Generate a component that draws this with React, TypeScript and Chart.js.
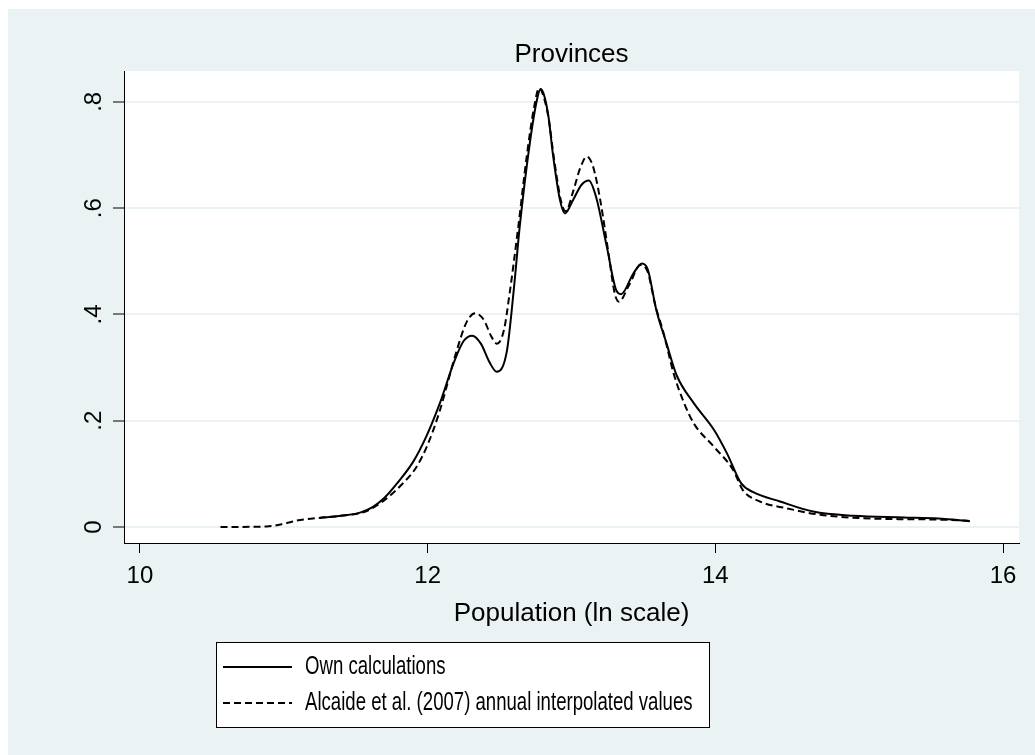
import React, { useEffect, useRef } from "react";
import { Chart, registerables } from "chart.js";

Chart.register(...registerables);

// ---- data ----
const chartTitle = "Provinces";
const xAxisTitle = "Population (ln scale)";
const xTicks = [10, 12, 14, 16];
const yTicks = [0, 0.2, 0.4, 0.6, 0.8];
const yTickLabels = ["0", ".2", ".4", ".6", ".8"];
const seriesLabels = [
  "Own calculations",
  "Alcaide et al. (2007) annual interpolated values",
];

const ownX = [
  11.25, 11.4, 11.53, 11.62, 11.7, 11.79, 11.9, 11.99, 12.085, 12.18, 12.25,
  12.31, 12.37, 12.43, 12.48, 12.55, 12.6, 12.64, 12.71, 12.76, 12.785, 12.81,
  12.84, 12.87, 12.92, 12.955, 13.01, 13.07, 13.12, 13.17, 13.245, 13.31,
  13.345, 13.43, 13.49, 13.53, 13.59, 13.66, 13.73, 13.85, 13.99, 14.08, 14.18,
  14.26, 14.45, 14.68, 14.96, 15.31, 15.55, 15.77,
];
const ownY = [
  0.017, 0.021, 0.027, 0.038, 0.055, 0.083, 0.123, 0.17, 0.233, 0.308, 0.35,
  0.36, 0.345, 0.31, 0.292, 0.33, 0.45, 0.565, 0.722, 0.804, 0.824, 0.812,
  0.772, 0.703, 0.615, 0.59, 0.615, 0.644, 0.652, 0.622, 0.528, 0.446, 0.438,
  0.477, 0.496, 0.485, 0.408, 0.346, 0.286, 0.233, 0.183, 0.139, 0.082, 0.066,
  0.048, 0.029, 0.021, 0.018, 0.016, 0.011,
];

const alcX = [
  10.56, 10.88, 11.0, 11.09, 11.2, 11.32, 11.45, 11.53, 11.62, 11.72, 11.82,
  11.92, 12.0, 12.08, 12.2, 12.27, 12.33, 12.39, 12.44, 12.48, 12.53, 12.57,
  12.63, 12.69, 12.74, 12.775, 12.8, 12.84, 12.88, 12.93, 12.96, 13.01, 13.06,
  13.107, 13.15, 13.2, 13.26, 13.3, 13.33, 13.4, 13.48, 13.53, 13.58, 13.64,
  13.71, 13.78, 13.85, 13.99, 14.125, 14.19, 14.31, 14.5, 14.73, 15.08, 15.54,
  15.76,
];
const alcY = [
  0, 0.001, 0.006, 0.012, 0.016, 0.019, 0.023, 0.026, 0.036, 0.055, 0.08,
  0.112, 0.155, 0.215, 0.33, 0.385, 0.402, 0.39, 0.36, 0.345, 0.37, 0.44,
  0.565, 0.7, 0.79, 0.826, 0.815, 0.77, 0.69, 0.61, 0.594, 0.63, 0.675, 0.697,
  0.678, 0.615, 0.51, 0.44, 0.424, 0.455, 0.493, 0.48, 0.42, 0.365, 0.289,
  0.235, 0.195, 0.151, 0.107, 0.07, 0.048, 0.035, 0.023, 0.016, 0.014, 0.012,
];

// ---- styling ----
const BG = "#EAF2F3";
const FONT = "'Liberation Sans', Arial, Helvetica, sans-serif";
const CANVAS_W = 1027;
const CANVAS_H = 746;

const stataPlugin = {
  id: "stataLook",
  beforeDraw(chart: any) {
    const { ctx, chartArea: a, width, height } = chart;
    ctx.save();
    ctx.fillStyle = BG;
    ctx.fillRect(0, 0, width, height);
    ctx.fillStyle = "#ffffff";
    ctx.fillRect(a.left, a.top, a.right - a.left, a.bottom - a.top);
    ctx.restore();
  },
  afterDraw(chart: any) {
    const { ctx, chartArea: a } = chart;
    const ys = chart.scales.y;
    ctx.save();
    ctx.fillStyle = "#000";
    // title
    ctx.font = `26px ${FONT}`;
    ctx.textAlign = "center";
    ctx.textBaseline = "alphabetic";
    ctx.fillText(chartTitle, (a.left + a.right) / 2, 53);
    // rotated y tick labels
    ctx.font = `24px ${FONT}`;
    yTicks.forEach((v, i) => {
      const py = ys.getPixelForValue(v);
      ctx.save();
      ctx.translate(93, py);
      ctx.rotate(-Math.PI / 2);
      ctx.textAlign = "center";
      ctx.textBaseline = "alphabetic";
      ctx.fillText(yTickLabels[i], 0, 0);
      ctx.restore();
    });
    // legend box
    const bx = 208, by = 633, bw = 493, bh = 85;
    ctx.fillStyle = "#fff";
    ctx.fillRect(bx, by, bw, bh);
    ctx.strokeStyle = "#000";
    ctx.lineWidth = 1;
    ctx.strokeRect(bx + 0.5, by + 0.5, bw, bh);
    const rows = [658, 694];
    chart.data.datasets.forEach((ds: any, i: number) => {
      const y = rows[i];
      ctx.save();
      ctx.strokeStyle = ds.borderColor;
      ctx.lineWidth = ds.borderWidth;
      ctx.setLineDash(ds.borderDash || []);
      ctx.beginPath();
      ctx.moveTo(215, y);
      ctx.lineTo(284, y);
      ctx.stroke();
      ctx.restore();
      ctx.save();
      ctx.fillStyle = "#000";
      ctx.font = `26px ${FONT}`;
      ctx.textAlign = "left";
      ctx.textBaseline = "middle";
      ctx.translate(297, y);
      ctx.scale(0.715, 1);
      ctx.fillText(ds.label, 0, 0);
      ctx.restore();
    });
    ctx.restore();
  },
};

export default function App() {
  const ref = useRef<HTMLCanvasElement | null>(null);

  useEffect(() => {
    if (!ref.current) return;
    const own = ownX.map((x, i) => ({ x, y: ownY[i] }));
    const alc = alcX.map((x, i) => ({ x, y: alcY[i] }));
    const chart = new Chart(ref.current, {
      type: "line",
      data: {
        datasets: [
          {
            label: seriesLabels[0],
            data: own,
            borderColor: "#000",
            borderWidth: 2,
            pointRadius: 0,
            fill: false,
            cubicInterpolationMode: "monotone",
          },
          {
            label: seriesLabels[1],
            data: alc,
            borderColor: "#000",
            borderWidth: 2,
            borderDash: [7, 4],
            pointRadius: 0,
            fill: false,
            cubicInterpolationMode: "monotone",
          },
        ],
      },
      options: {
        animation: false,
        responsive: false,
        devicePixelRatio: 1,
        layout: { padding: { left: 0, top: 62, right: 16, bottom: 112 } },
        plugins: {
          legend: { display: false },
          title: { display: false },
          tooltip: { enabled: false },
        },
        scales: {
          x: {
            type: "linear",
            min: 9.889,
            max: 16.111,
            afterBuildTicks: (s: any) => {
              s.ticks = xTicks.map((v) => ({ value: v }));
            },
            afterFit: (s: any) => {
              s.height = 100;
            },
            ticks: {
              padding: 9,
              color: "#000",
              font: { family: FONT, size: 24 },
              maxRotation: 0,
              autoSkip: false,
            },
            grid: {
              drawOnChartArea: false,
              drawTicks: true,
              tickLength: 10,
              tickColor: "#000",
              tickWidth: 1,
            },
            border: { display: true, color: "#000", width: 1 },
            title: {
              display: true,
              text: xAxisTitle,
              color: "#000",
              font: { family: FONT, size: 26 },
              padding: { top: 0, bottom: 14 },
            },
          },
          y: {
            type: "linear",
            min: -0.0301,
            max: 0.858,
            afterBuildTicks: (s: any) => {
              s.ticks = yTicks.map((v) => ({ value: v }));
            },
            afterFit: (s: any) => {
              s.width = 116;
            },
            ticks: { display: false },
            grid: {
              color: BG,
              lineWidth: 2,
              drawTicks: true,
              tickLength: 11,
              tickColor: "#000",
              tickWidth: 1,
            },
            border: { display: true, color: "#000", width: 1 },
          },
        },
      } as any,
      plugins: [stataPlugin],
    });
    return () => chart.destroy();
  }, []);

  return (
    <canvas
      ref={ref}
      width={CANVAS_W}
      height={CANVAS_H}
      style={{
        position: "absolute",
        left: 8,
        top: 9,
        width: CANVAS_W,
        height: CANVAS_H,
        display: "block",
      }}
    />
  );
}
